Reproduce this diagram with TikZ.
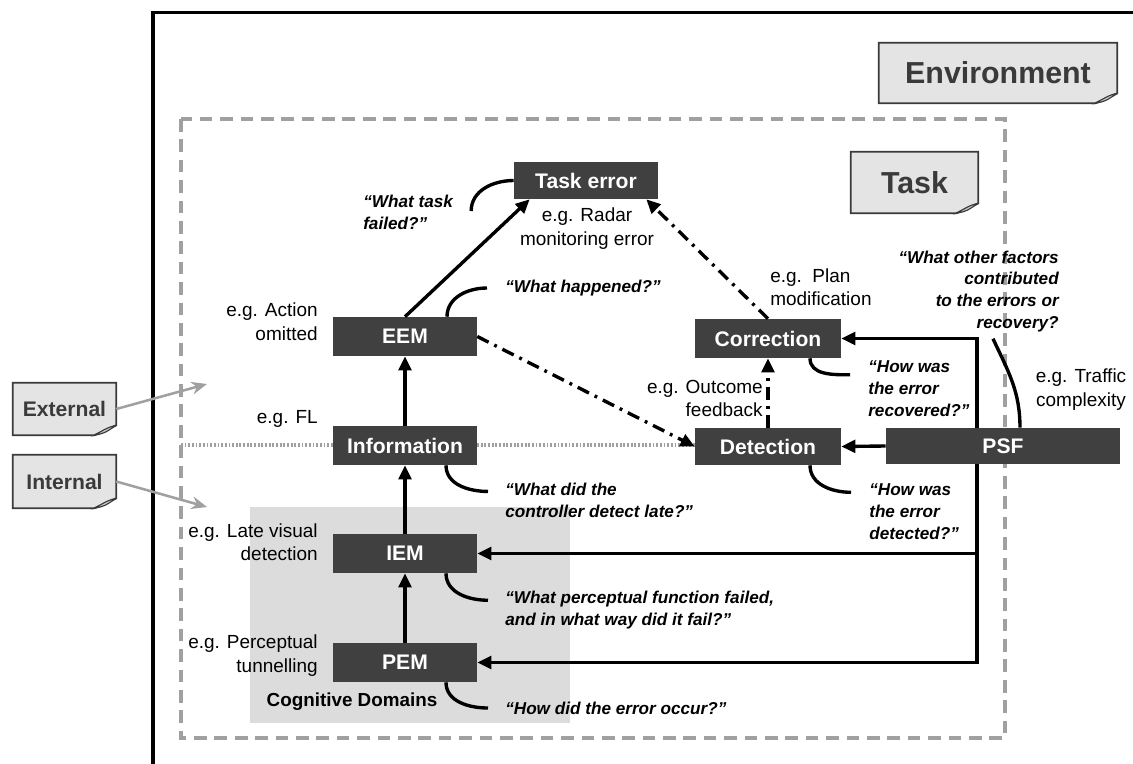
\documentclass[tikz,border=0pt]{standalone}
\usepackage{fontspec}
\setmainfont{Liberation Sans}
\usetikzlibrary{arrows.meta}
\usetikzlibrary{calc}
\usetikzlibrary{backgrounds}
\definecolor{boxdark}{HTML}{404040}
\definecolor{notefill}{HTML}{E4E4E4}
\definecolor{noteline}{HTML}{3A3A3A}
\definecolor{cogshade}{HTML}{DCDCDC}
\definecolor{dashgray}{HTML}{A0A0A0}

\tikzset{
  errbox/.style={fill=boxdark, text=white, font=\fontsize{15}{18}\selectfont\bfseries,
    inner sep=0pt, minimum width=3.6cm, minimum height=0.975cm},
  note/.style={text=noteline, font=\fontsize{15}{18}\selectfont\bfseries, inner sep=0pt},
  eg/.style={inner sep=0pt, font=\fontsize{13.5}{16.7}\selectfont},
  quote/.style={inner sep=0pt, align=left, font=\fontsize{12.2}{15.6}\selectfont\bfseries\itshape},
  arr/.style={line width=2.4pt, -{Triangle[length=10pt,width=9pt]}},
  dashdot/.style={arr, dash pattern=on 9pt off 4.5pt on 2pt off 4.5pt},
  grayarr/.style={dashgray, line width=1.8pt, -{Stealth[length=11pt,width=9pt]}},
  callout/.style={line width=2.4pt},
  taskline/.style={dashgray, line width=2.2pt, dash pattern=on 9pt off 5.5pt},
  dotline/.style={dashgray, line width=2.2pt, dash pattern=on 1.3pt off 1.3pt},
}

\begin{document}
\begin{tikzpicture}[x=0.025cm, y=-0.025cm]
\useasboundingbox (0,0) rectangle (1133,764);

% environment frame
\draw[line width=2.4pt] (153,764) -- (153,12.5) -- (1133,12.5);

% error modes
\node[errbox, minimum height=0.925cm] (taskerr) at (586,180.5) {Task error};
\node[errbox] (eem) at (405,336.5) {EEM};
\node[errbox] (info) at (405,445.5) {Information};
\node[errbox] (iem) at (405,553.5) {IEM};
\node[errbox] (pem) at (405,662.5) {PEM};
\node[errbox, minimum width=3.65cm] (corr) at (768,338.5) {Correction};
\node[errbox, minimum width=3.65cm, minimum height=0.925cm] (detect) at (768,446.5) {Detection};
\node[errbox, minimum width=5.85cm, minimum height=0.9cm] (psf) at (1003,446) {PSF};

% labels
\node[note, minimum width=5.95cm, minimum height=1.5cm, font=\fontsize{21.6}{26}\selectfont\bfseries] (env) at (998,73) {Environment};
\node[note, minimum width=3.175cm, minimum height=1.525cm, font=\fontsize{21.6}{26}\selectfont\bfseries] (tasklbl) at (914.5,182.5) {Task};
\node[note, minimum width=2.575cm, minimum height=1.3cm] (external) at (64.5,409) {External};
\node[note, minimum width=2.575cm, minimum height=1.325cm] (internal) at (64.5,481.5) {Internal};

% examples
\node[eg, anchor=east, align=right] (egaction) at (318,321.5) {e.g. Action\\omitted};
\node[eg, align=center] (egradar) at (587,228.5) {e.g. Radar\\monitoring error};
\node[eg, anchor=west, align=left] (egplan) at (770,287) {e.g.\ \ Plan\\modification};
\node[eg, anchor=east, align=right] (egoutcome) at (763,398.5) {e.g. Outcome\\feedback};
\node[eg, align=center] (egtraffic) at (1081,389.5) {e.g. Traffic\\complexity};
\node[eg, anchor=east] (egfl) at (318,419) {e.g. FL};
\node[eg, anchor=east, align=right] (eglate) at (318,542) {e.g. Late visual\\detection};
\node[eg, anchor=east, align=right] (egperc) at (318,655.5) {e.g. Perceptual\\tunnelling};
\node[inner sep=0pt, font=\fontsize{13.4}{16}\selectfont\bfseries] (cogdom) at (352,702) {Cognitive Domains};

% questions
\node[quote, anchor=west] (qtask) at (363,212) {“What task\\failed?”};
\node[quote, anchor=west] (qhappen) at (505,288) {“What happened?”};
\node[quote, anchor=west] (qinfo) at (505,500) {“What did the\\controller detect late?”};
\node[quote, anchor=west] (qiem) at (505,610.5) {“What perceptual function failed,\\and in what way did it fail?”};
\node[quote, anchor=west] (qpem) at (505,708) {“How did the error occur?”};
\node[quote, anchor=west] (qrecov) at (868,389) {“How was\\the error\\recovered?”};
\node[quote, anchor=west] (qdetect) at (869,511.5) {“How was\\the error\\detected?”};
\node[quote, anchor=east, align=right] (qother) at (1059,291.5) {“What other factors\\contributed\\to the errors or\\recovery?};

\coordinate (trunk) at (977,338.5);
\coordinate (fl) at (181,445);
\coordinate (extend) at (207,384);
\coordinate (intend) at (207,507);

\begin{scope}[on background layer]
\fill[cogshade] (250,507) rectangle (570,723);
\draw[taskline] (181,119) rectangle (1005,738);
\draw[dotline] (fl) -- (fl -| detect.west);
\draw[line width=2.4pt, line cap=rect] (trunk) -- (trunk |- pem);
\foreach \n in {env,tasklbl,external,internal} {
  \draw[noteline, fill=notefill, line width=1.3pt] (\n.north west) -- (\n.north east)
    -- ($(\n.south east)+(0,-10)$) -- ($(\n.south east)+(-22,0)$) -- (\n.south west) -- cycle;
  \draw[noteline, fill=notefill!70!gray, line width=0.8pt] ($(\n.south east)+(0,-10)$)
    .. controls ($(\n.south east)+(-12,-2)$) .. ($(\n.south east)+(-22,0)$)
    .. controls ($(\n.south east)+(-8,-8)$) .. ($(\n.south east)+(0,-10)$);
}
\end{scope}

% connectors
\draw[arr] (info) -- (eem);
\draw[arr] (iem) -- (info);
\draw[arr] (pem) -- (iem);
\draw[arr] (eem.north) -- ($(taskerr.south west)+(16,0)$);
\draw[dashdot] (eem.east) -- (detect.west);
\draw[dashdot] (corr.north) -- ($(taskerr.south east)+(-12,0)$);
\draw[dashdot] (detect.north) -- (corr.south);
\draw[arr] (trunk) -- (corr.east);
\draw[arr] (psf.west) -- (detect.east);
\draw[arr] (trunk |- iem) -- (iem.east);
\draw[arr] (trunk |- pem) -- (pem.east);
\draw[grayarr] (external.east) -- (extend);
\draw[grayarr] (internal.east) -- (intend);

% question hooks
\draw[callout] ($(qtask.east)+(18,-1)$) to[out=90,in=180] (taskerr.west);
\draw[callout] ($(eem.north)+(42,0)$) to[out=90,in=180] ($(qhappen.west)+(-18,0)$);
\draw[callout] ($(info.south)+(41,0)$) to[out=-90,in=180] ($(qinfo.north west)+(-17,9)$);
\draw[callout] ($(iem.south)+(41,0)$) to[out=-90,in=180] ($(qiem.north west)+(-17,9)$);
\draw[callout] ($(pem.south)+(41,0)$) to[out=-90,in=180] ($(qpem.west)+(-17,0)$);
\draw[callout] ($(corr.south)+(42,0)$) to[out=-90,in=180] ($(qrecov.north west)+(-18,14)$);
\draw[callout] ($(detect.south)+(42,0)$) to[out=-90,in=180] ($(qdetect.north west)+(-18,9)$);
\draw[callout] ($(qother.south east)+(-66,6)$) to[out=-65,in=90] ($(psf.north)+(17,0)$);
\end{tikzpicture}
\end{document}
